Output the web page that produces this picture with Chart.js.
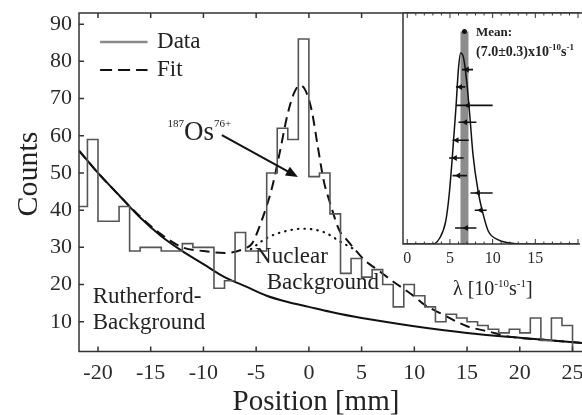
<!DOCTYPE html>
<html>
<head>
<meta charset="utf-8">
<script src="https://cdn.jsdelivr.net/npm/chart.js@4.4.0/dist/chart.umd.min.js"></script>
<style>
  body { margin: 0; background: #fff; }
  #wrap { position: relative; width: 582px; height: 415px; }
  #main { position: absolute; left: 0; top: 0; }
  #inset { position: absolute; left: 380px; top: 0; }
</style>
</head>
<body>
<div id="wrap">
  <canvas id="main" width="582" height="415"></canvas>
  <canvas id="inset" width="202" height="305"></canvas>
</div>
<script>
// histogram, 1 mm bins, first bin starts at -22 mm
var binStart = -22;
var counts = [41, 59, 37, 37, 41, 29, 30, 30, 29, 29, 31, 30, 30, 19, 21, 34, 29, 29,
              50, 62, 59, 86, 49, 50, 39, 23, 27, 22, 24, 20, 14, 20, 17, 14, 10, 12,
              11, 10, 9, 8, 7, 8, 7, 11, 5, 11, 9];

// Rutherford background (solid)
var rutherX = [-21.8, -20, -18, -16, -14, -12, -10, -8, -6, -4, -2, 0, 2, 5, 10, 15, 20, 25.9];
var rutherY = [56, 50, 44, 38, 33, 29, 25.5, 22, 19.5, 17, 15.3, 14, 12.7, 11, 8.8, 7, 5.7, 4.3];

// total fit (dashed)
var fitX = [-21.8, -20, -18, -16, -14, -12, -10, -8, -6, -5.4, -4.5, -3.5, -2.8, -2, -1.4, -0.9,
            -0.4, 0.25, 0.85, 1.4, 2, 2.9, 3.6, 4.2, 5.3, 6.5, 7.8, 10, 11, 12.4, 15, 17, 19, 22, 25.9];
var fitY = [56, 50, 44, 38.3, 33.5, 30, 29, 28.5, 29.8, 31, 37, 46, 55, 66, 71.5, 73.5,
            72.6, 67, 57, 48, 42, 34.5, 32, 30, 26.5, 24, 21.2, 16.8, 14.5, 12.4, 8.8, 7.4, 6, 5.2, 4.3];

// nuclear background (dotted)
var nucX = [-5.5, -4, -2, -0.5, 1.5, 3, 4.3];
var nucY = [29.5, 32.5, 34.5, 35, 34, 31.5, 29.5];

var xTicks = [-20, -15, -10, -5, 0, 5, 10, 15, 20, 25];
var yTicks = [10, 20, 30, 40, 50, 60, 70, 80, 90];

// inset: decay constant lambda [1e-10 /s]
var lamCurveX = [-0.5, 3, 3.8, 4.5, 4.9, 5.3, 5.7, 6.0, 6.25, 6.6, 7.0, 7.35, 7.7, 8.3, 8.9, 9.5, 10.6, 11.9, 13, 20];
var lamCurveY = [0, 0, 2.6, 9.8, 21, 38.7, 58.9, 76, 82.7, 80.5, 69, 54.5, 38.7, 22.8, 12.7, 5.5, 1.9, 0.5, 0, 0];
var lamVal = [7.0, 6.2, 7.1, 6.8, 5.8, 5.6, 6.0, 8.3, 8.6, 6.9];
var lamLo  = [6.4, 5.7, 5.7, 6.0, 5.3, 4.9, 5.3, 7.4, 7.9, 5.6];
var lamHi  = [7.7, 6.8, 10.0, 8.1, 7.2, 6.6, 7.0, 10.0, 9.3, 8.1];
var lamRow = [75.5, 68, 60, 52.7, 44.9, 37.2, 29.6, 22.1, 14.6, 6.9];
var lamMean = 6.7, lamMeanTop = 92;
var lamTicks = [0, 5, 10, 15];

var serif = '"Liberation Serif", "Times New Roman", serif';
function f(size, bold) { return (bold ? 'bold ' : '') + size + 'px ' + serif; }
var ink = '#222';

function pts(xs, ys) { return xs.map(function (x, i) { return { x: x, y: ys[i] }; }); }

// text made of runs: [text, raise, font]
function runs(ctx, x, y, parts) {
  parts.forEach(function (p) {
    ctx.font = p[2];
    ctx.fillText(p[0], x, y - p[1]);
    x += ctx.measureText(p[0]).width;
  });
}

var histData = counts.map(function (c, i) { return { x: binStart + i, y: c }; });
histData.push({ x: binStart + counts.length, y: 2 });

var mainDecor = {
  id: 'mainDecor',
  afterDraw: function (chart) {
    var ctx = chart.ctx, a = chart.chartArea, xs = chart.scales.x, ys = chart.scales.y;
    ctx.save();
    // frame + inward ticks
    ctx.strokeStyle = '#333';
    ctx.lineWidth = 1.5;
    ctx.beginPath();
    ctx.moveTo(a.right + 2, a.top); ctx.lineTo(a.left, a.top);
    ctx.lineTo(a.left, a.bottom); ctx.lineTo(a.right + 2, a.bottom);
    xTicks.forEach(function (v) {
      var px = xs.getPixelForValue(v);
      ctx.moveTo(px, a.bottom); ctx.lineTo(px, a.bottom - 5);
      ctx.moveTo(px, a.top); ctx.lineTo(px, a.top + 5);
    });
    yTicks.forEach(function (v) {
      var py = ys.getPixelForValue(v);
      ctx.moveTo(a.left, py); ctx.lineTo(a.left + 5, py);
    });
    ctx.stroke();

    // legend
    var lx0 = xs.getPixelForValue(-19.8), lx1 = xs.getPixelForValue(-15.3);
    var ly1 = ys.getPixelForValue(85.2), ly2 = ys.getPixelForValue(77.7);
    ctx.strokeStyle = '#8a8a8a'; ctx.lineWidth = 2.5;
    ctx.beginPath(); ctx.moveTo(lx0, ly1); ctx.lineTo(lx1, ly1); ctx.stroke();
    ctx.strokeStyle = '#111'; ctx.lineWidth = 2; ctx.setLineDash([12, 6]);
    ctx.beginPath(); ctx.moveTo(lx0, ly2); ctx.lineTo(lx1, ly2); ctx.stroke();
    ctx.setLineDash([]);
    ctx.fillStyle = ink;
    ctx.font = f(23);
    ctx.textBaseline = 'middle';
    ctx.fillText('Data', xs.getPixelForValue(-14.4), ly1);
    ctx.fillText('Fit', xs.getPixelForValue(-14.4), ly2);

    // region labels
    ctx.fillText('Nuclear', xs.getPixelForValue(-5.1), ys.getPixelForValue(27.4));
    ctx.fillText('Background', xs.getPixelForValue(-4.0), ys.getPixelForValue(20.4));
    ctx.fillText('Rutherford-', xs.getPixelForValue(-20.5), ys.getPixelForValue(16.6));
    ctx.fillText('Background', xs.getPixelForValue(-20.5), ys.getPixelForValue(9.6));

    // 187Os76+ with arrow
    ctx.textBaseline = 'alphabetic';
    runs(ctx, xs.getPixelForValue(-13.4), ys.getPixelForValue(58.9),
      [['187', 13, f(11)], ['Os', 0, f(27)], ['76+', 13, f(11)]]);
    var ax0 = xs.getPixelForValue(-8.25), ay0 = ys.getPixelForValue(60.2);
    var ax1 = xs.getPixelForValue(-1.04), ay1 = ys.getPixelForValue(48.9);
    var ang = Math.atan2(ay1 - ay0, ax1 - ax0);
    ctx.strokeStyle = '#111'; ctx.lineWidth = 2;
    ctx.beginPath(); ctx.moveTo(ax0, ay0);
    ctx.lineTo(ax1 - 9 * Math.cos(ang), ay1 - 9 * Math.sin(ang)); ctx.stroke();
    ctx.fillStyle = '#111';
    ctx.beginPath();
    ctx.moveTo(ax1, ay1);
    ctx.lineTo(ax1 - 12 * Math.cos(ang) + 5 * Math.sin(ang), ay1 - 12 * Math.sin(ang) - 5 * Math.cos(ang));
    ctx.lineTo(ax1 - 12 * Math.cos(ang) - 5 * Math.sin(ang), ay1 - 12 * Math.sin(ang) + 5 * Math.cos(ang));
    ctx.closePath(); ctx.fill();

    // axis titles
    ctx.fillStyle = ink;
    ctx.font = f(29);
    ctx.textAlign = 'center';
    ctx.fillText('Position [mm]', 316, 410);
    ctx.translate(37, 174);
    ctx.rotate(-Math.PI / 2);
    ctx.font = f(30);
    ctx.fillText('Counts', 0, 0);
    ctx.restore();
  }
};

new Chart(document.getElementById('main'), {
  type: 'scatter',
  data: {
    datasets: [
      { data: histData, showLine: true, stepped: true, borderColor: '#555', borderWidth: 1.6, pointRadius: 0 },
      { data: pts(fitX, fitY), showLine: true, borderColor: '#111', borderWidth: 2, borderDash: [10, 6],
        cubicInterpolationMode: 'monotone', pointRadius: 0 },
      { data: pts(nucX, nucY), showLine: true, borderColor: '#111', borderWidth: 2.2, borderDash: [0.5, 6],
        borderCapStyle: 'round', cubicInterpolationMode: 'monotone', pointRadius: 0 },
      { data: pts(rutherX, rutherY), showLine: true, borderColor: '#111', borderWidth: 2,
        cubicInterpolationMode: 'monotone', pointRadius: 0 }
    ]
  },
  options: {
    responsive: false,
    animation: false,
    devicePixelRatio: 1,
    events: [],
    layout: { padding: { top: 13, left: 0, right: 0, bottom: 0 } },
    plugins: { legend: { display: false }, tooltip: { enabled: false } },
    scales: {
      x: {
        type: 'linear', min: -21.8, max: 25.9,
        afterBuildTicks: function (s) { s.ticks = xTicks.map(function (v) { return { value: v }; }); },
        afterFit: function (s) { s.height = 63.5; s.paddingLeft = 0; s.paddingRight = 0; },
        grid: { display: false, drawTicks: false },
        border: { display: false },
        ticks: { font: { family: serif, size: 22 }, color: '#2a2a2a', padding: 9, maxRotation: 0 }
      },
      y: {
        min: 2, max: 93,
        afterBuildTicks: function (s) { s.ticks = yTicks.map(function (v) { return { value: v }; }); },
        afterFit: function (s) { s.width = 79; s.paddingTop = 0; s.paddingBottom = 0; },
        grid: { display: false, drawTicks: false },
        border: { display: false },
        ticks: { font: { family: serif, size: 22 }, color: '#2a2a2a', padding: 7 }
      }
    }
  },
  plugins: [mainDecor]
});

// ---- inset ----
var barData = [];
lamVal.forEach(function (v, i) {
  barData.push({ x: lamLo[i], y: lamRow[i] }, { x: lamHi[i], y: lamRow[i] }, { x: lamHi[i], y: null });
});

var insetDecor = {
  id: 'insetDecor',
  beforeDraw: function (chart) {
    var ctx = chart.ctx, a = chart.chartArea;
    ctx.save();
    ctx.fillStyle = '#fff';
    ctx.fillRect(a.left, a.top, a.right - a.left + 2, a.bottom - a.top);
    ctx.restore();
  },
  afterDraw: function (chart) {
    var ctx = chart.ctx, a = chart.chartArea, xs = chart.scales.x;
    ctx.save();
    ctx.strokeStyle = '#333';
    ctx.lineWidth = 1.5;
    ctx.beginPath();
    ctx.moveTo(a.right + 2, a.top); ctx.lineTo(a.left, a.top);
    ctx.lineTo(a.left, a.bottom); ctx.lineTo(a.right + 2, a.bottom);
    ctx.stroke();
    ctx.lineWidth = 1;
    ctx.beginPath();
    for (var v = 0; v <= 20; v++) {
      var px = xs.getPixelForValue(v), len = v % 5 === 0 ? 5 : 2.5;
      ctx.moveTo(px, a.bottom); ctx.lineTo(px, a.bottom - len);
      ctx.moveTo(px, a.top); ctx.lineTo(px, a.top + len);
    }
    ctx.stroke();

    ctx.fillStyle = ink;
    ctx.textBaseline = 'alphabetic';
    runs(ctx, a.left + 73, a.top + 23, [['Mean:', 0, f(13, true)]]);
    runs(ctx, a.left + 73, a.top + 43,
      [['(7.0\u00b10.3)x10', 0, f(14, true)], ['-10', 6, f(9, true)], ['s', 0, f(14, true)], ['-1', 6, f(9, true)]]);
    runs(ctx, 73, 295,
      [['\u03bb [10', 0, f(20)], ['-10', 8, f(11)], ['s', 0, f(20)], ['-1', 8, f(11)], [']', 0, f(20)]]);
    ctx.restore();
  }
};

new Chart(document.getElementById('inset'), {
  type: 'scatter',
  data: {
    datasets: [
      { data: pts(lamVal, lamRow), pointStyle: 'triangle', rotation: -90, pointRadius: 3.5,
        backgroundColor: '#111', borderColor: '#111', borderWidth: 0 },
      { data: barData, showLine: true, spanGaps: false, borderColor: '#111', borderWidth: 1.6, pointRadius: 0 },
      { data: pts(lamCurveX, lamCurveY), showLine: true, borderColor: '#111', borderWidth: 1.5,
        cubicInterpolationMode: 'monotone', pointRadius: 0 },
      { data: [{ x: lamMean, y: lamMeanTop }], pointRadius: 2.5, backgroundColor: '#111', borderWidth: 0 },
      { data: [{ x: lamMean, y: 0 }, { x: lamMean, y: lamMeanTop }], showLine: true,
        borderColor: '#8c8c8c', borderWidth: 8, borderCapStyle: 'butt', pointRadius: 0 }
    ]
  },
  options: {
    responsive: false,
    animation: false,
    devicePixelRatio: 1,
    events: [],
    layout: { padding: { top: 13, left: 23, right: 0, bottom: 0 } },
    plugins: { legend: { display: false }, tooltip: { enabled: false } },
    scales: {
      x: {
        type: 'linear', min: -0.5, max: 20,
        afterBuildTicks: function (s) { s.ticks = lamTicks.map(function (v) { return { value: v }; }); },
        afterFit: function (s) { s.height = 61; s.paddingLeft = 0; s.paddingRight = 0; },
        grid: { display: false, drawTicks: false },
        border: { display: false },
        ticks: { font: { family: serif, size: 16 }, color: '#2a2a2a', padding: 5, maxRotation: 0 }
      },
      y: { min: 0, max: 100, display: false }
    }
  },
  plugins: [insetDecor]
});
</script>
</body>
</html>
